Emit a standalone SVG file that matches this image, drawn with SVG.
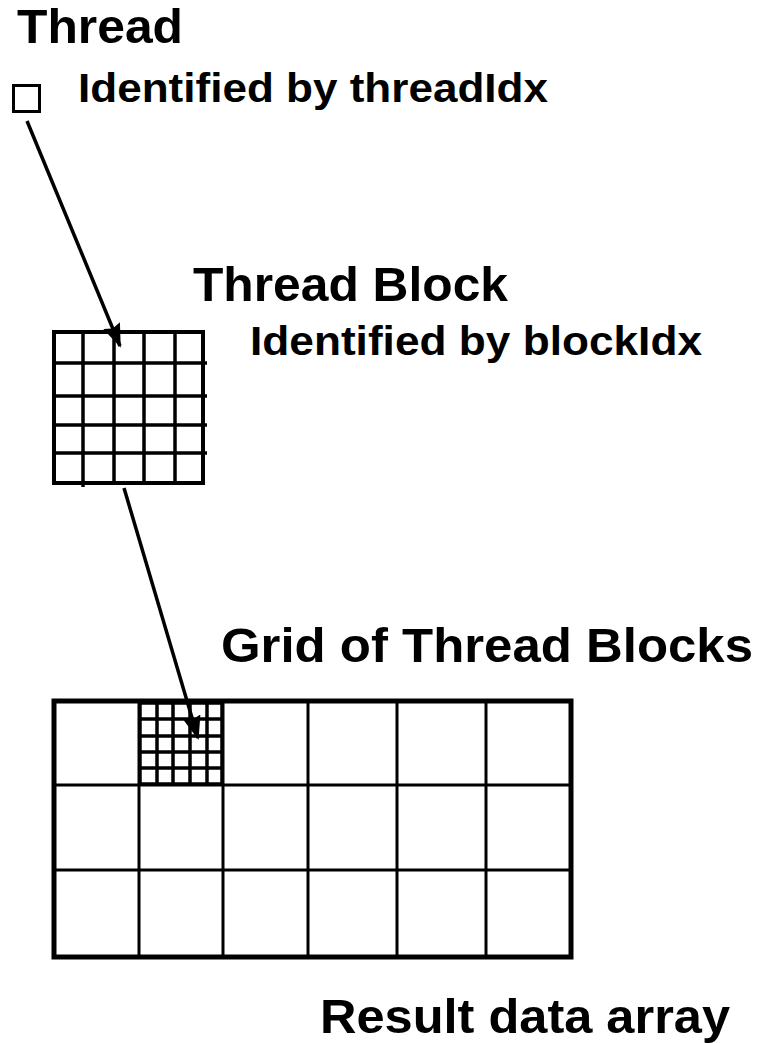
<svg xmlns="http://www.w3.org/2000/svg" width="758" height="1043" viewBox="0 0 758 1043">
  <style>
    .title { font-family: "Liberation Sans", Arial, Helvetica, sans-serif; font-weight: bold; font-size: 49px; fill: #000; }
    .sub { font-family: "Liberation Sans", Arial, Helvetica, sans-serif; font-weight: bold; font-size: 41px; fill: #000; }
    .box { fill: #fff; stroke: #000; }
    .line { stroke: #000; fill: none; }
    .conn { stroke: #000; stroke-width: 3.5; fill: none; }
  </style>
  <defs>
    <marker id="arrow" viewBox="0 0 24 18" refX="22" refY="9" markerWidth="24" markerHeight="18" markerUnits="userSpaceOnUse" orient="auto">
      <path d="M0,0 L24,9 L0,18 L3,9 z" fill="#000"/>
    </marker>
  </defs>

  <rect width="758" height="1043" fill="#fff"/>

  <!-- Single thread -->
  <g id="thread">
    <text class="title" x="17" y="43" textLength="166" lengthAdjust="spacingAndGlyphs">Thread</text>
    <rect class="box" x="13.5" y="85.5" width="26" height="26" stroke-width="3"/>
    <text class="sub" x="78" y="102" textLength="470" lengthAdjust="spacingAndGlyphs">Identified by threadIdx</text>
  </g>

  <!-- Thread block: 5 x 5 threads -->
  <g id="thread-block">
    <text class="title" x="193" y="301" textLength="315" lengthAdjust="spacingAndGlyphs">Thread Block</text>
    <text class="sub" x="250" y="355" textLength="452" lengthAdjust="spacingAndGlyphs">Identified by blockIdx</text>
    <rect class="box" x="54" y="332" width="149" height="151" stroke-width="4"/>
    <g class="line" stroke-width="3.5">
      <line x1="83" y1="332" x2="83" y2="487"/>
      <line x1="114" y1="332" x2="114" y2="483"/>
      <line x1="144" y1="332" x2="144" y2="483"/>
      <line x1="175" y1="332" x2="175" y2="483"/>
      <line x1="54" y1="363" x2="207" y2="363"/>
      <line x1="54" y1="396" x2="207" y2="396"/>
      <line x1="54" y1="425" x2="207" y2="425"/>
      <line x1="54" y1="453" x2="207" y2="453"/>
    </g>
  </g>

  <!-- Grid of thread blocks: 6 x 3 blocks -->
  <g id="grid">
    <text class="title" x="221" y="662" textLength="532" lengthAdjust="spacingAndGlyphs">Grid of Thread Blocks</text>
    <rect class="box" x="54" y="701" width="517" height="256" stroke-width="5"/>
    <g class="line" stroke-width="3">
      <line x1="139" y1="701" x2="139" y2="957"/>
      <line x1="223" y1="701" x2="223" y2="957"/>
      <line x1="308" y1="701" x2="308" y2="957"/>
      <line x1="397" y1="701" x2="397" y2="957"/>
      <line x1="486" y1="701" x2="486" y2="957"/>
      <line x1="54" y1="785" x2="571" y2="785"/>
      <line x1="54" y1="870" x2="571" y2="870"/>
    </g>
    <!-- one block expanded into its threads -->
    <g class="line" stroke-width="3.5">
      <rect x="140" y="703" width="82" height="81"/>
      <line x1="157" y1="703" x2="157" y2="784"/>
      <line x1="173" y1="703" x2="173" y2="784"/>
      <line x1="190" y1="703" x2="190" y2="784"/>
      <line x1="207" y1="703" x2="207" y2="784"/>
      <line x1="140" y1="719" x2="222" y2="719"/>
      <line x1="140" y1="736" x2="222" y2="736"/>
      <line x1="140" y1="752" x2="222" y2="752"/>
      <line x1="140" y1="768" x2="222" y2="768"/>
    </g>
    <text class="title" x="320" y="1033" textLength="410" lengthAdjust="spacingAndGlyphs">Result data array</text>
  </g>

  <!-- Connectors -->
  <g id="connectors">
    <line class="conn" x1="27" y1="121" x2="120" y2="346" marker-end="url(#arrow)"/>
    <line class="conn" x1="124" y1="488" x2="198" y2="738" marker-end="url(#arrow)"/>
  </g>
</svg>
